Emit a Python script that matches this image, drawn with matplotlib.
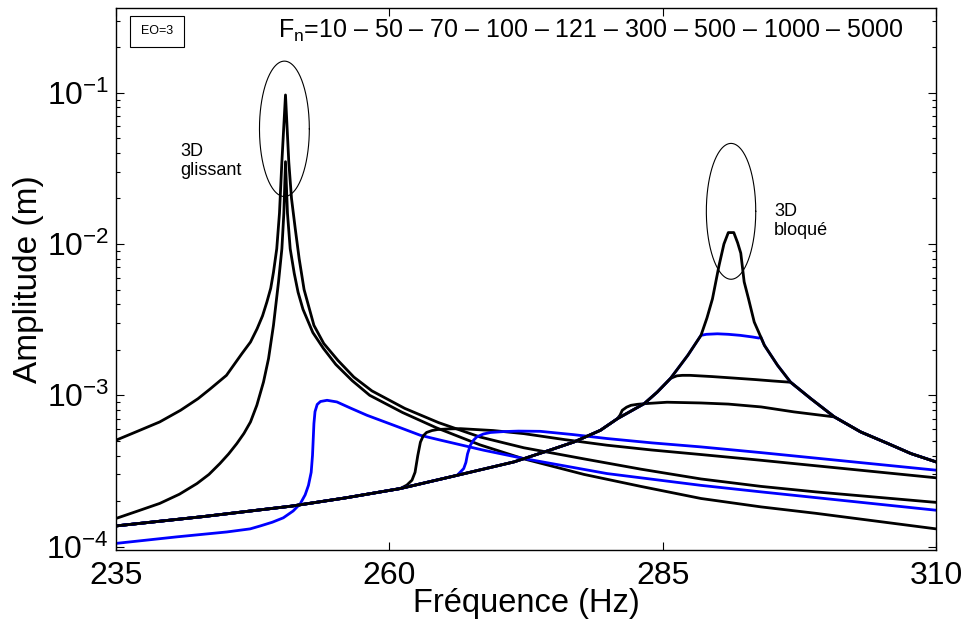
import numpy as np
import matplotlib
matplotlib.use("Agg")
from matplotlib import pyplot as plt
from matplotlib.patches import Rectangle
from matplotlib.ticker import LogLocator, NullFormatter, FixedLocator

plt.rcParams["font.family"] = ["Liberation Sans", "DejaVu Sans"]
plt.rcParams["mathtext.fontset"] = "custom"
plt.rcParams["mathtext.rm"] = "Liberation Sans"
plt.rcParams["mathtext.it"] = "Liberation Sans:italic"
plt.rcParams["mathtext.default"] = "regular"

# --- données (fréquence en Hz, amplitude en m) ---
# branche "bloqué" (Fn = 5000), partagée par les autres efforts en bas de courbe
freq_5000 = [235, 243, 251, 256, 261, 266.2, 271.4, 274.5, 276.9, 279.3, 280.85,
             283.3, 284.5, 285.7, 287.3, 288.5, 289.05, 289.55, 290.15, 290.6,
             291.0, 291.5, 291.85, 292.14, 292.45, 292.85, 293.37, 293.97, 294.3,
             295.5, 296.7, 298.55, 300.7, 303.1, 305.6, 307.7, 310]
amp_5000 = [1.37e-4, 1.58e-4, 1.85e-4, 2.1e-4, 2.42e-4, 2.96e-4, 3.63e-4, 4.3e-4,
            4.92e-4, 5.87e-4, 7.0e-4, 8.8e-4, 1.05e-3, 1.29e-3, 1.84e-3, 2.49e-3,
            3.25e-3, 4.34e-3, 7.2e-3, 1.0e-2, 1.19e-2, 1.19e-2, 1.02e-2, 8.7e-3,
            5.62e-3, 4.34e-3, 3.05e-3, 2.43e-3, 2.14e-3, 1.58e-3, 1.22e-3, 9.5e-4,
            7.2e-4, 5.73e-4, 4.8e-4, 4.12e-4, 3.63e-4]

# Fn = 10 (glissant, pic haut)
freq_10 = [235, 237, 239.0, 240.9, 242.5, 243.6, 245.1, 246.5, 247.3, 247.9, 248.4,
           248.8, 249.15, 249.4, 249.7, 249.95, 250.17, 250.5, 250.8, 251.05, 251.4,
           251.75, 252.2, 253.1, 254.0, 255.3, 256.75, 258.4, 261.4, 264.5, 268.3,
           272.3, 277.8, 283, 288.5, 294, 299, 310]
amp_10 = [5.05e-4, 5.8e-4, 6.67e-4, 7.96e-4, 9.5e-4, 1.1e-3, 1.355e-3, 1.88e-3,
          2.25e-3, 2.75e-3, 3.35e-3, 4.14e-3, 5.1e-3, 6.5e-3, 9.3e-3, 1.6e-2,
          3.5e-2, 9.66e-2, 3.5e-2, 2.0e-2, 1.25e-2, 8.0e-3, 5.0e-3, 2.9e-3,
          2.2e-3, 1.7e-3, 1.32e-3, 1.07e-3, 8.2e-4, 6.6e-4, 5.3e-4, 4.5e-4,
          3.8e-4, 3.25e-4, 2.8e-4, 2.5e-4, 2.3e-4, 1.96e-4]

# Fn = 50 (glissant, pic moyen)
freq_50 = [235, 237, 239.0, 240.8, 242.4, 243.5, 244.5, 245.3, 246.05, 246.7,
           247.3, 247.88, 248.49, 248.95, 249.4, 249.86, 250.17, 250.35, 250.5,
           250.68, 250.93, 251.3, 251.65, 252.1, 253.0, 253.95, 255.1, 256.6, 258.2,
           261.2, 264.3, 268.3, 272.3, 277.8, 283, 288.5, 294, 299, 310]
amp_50 = [1.535e-4, 1.72e-4, 1.93e-4, 2.22e-4, 2.61e-4, 3.0e-4, 3.54e-4, 4.1e-4,
          4.8e-4, 5.6e-4, 6.67e-4, 8.6e-4, 1.225e-3, 1.75e-3, 2.9e-3, 5.6e-3,
          9.3e-3, 1.6e-2, 3.5e-2, 1.6e-2, 9.3e-3, 6.4e-3, 4.8e-3, 3.7e-3, 2.6e-3,
          2.05e-3, 1.6e-3, 1.25e-3, 1.0e-3, 7.7e-4, 6.1e-4, 4.7e-4, 3.8e-4, 3.0e-4,
          2.5e-4, 2.08e-4, 1.83e-4, 1.66e-4, 1.31e-4]

# Fn = 70 (saut vers 253 Hz)
freq_70 = [235, 240.56, 245.14, 247.27, 248.2, 249.3, 250.3, 251.2, 251.85, 252.3,
           252.6, 252.85, 252.97, 253.03, 253.1, 253.2, 253.4, 253.7, 254.3, 255.2,
           256.5, 257.95, 260.5, 262.84, 264.7, 268.6, 272.3, 279.9, 288.5, 294, 310]
amp_70 = [1.05e-4, 1.16e-4, 1.25e-4, 1.31e-4, 1.37e-4, 1.45e-4, 1.55e-4, 1.72e-4,
          1.92e-4, 2.2e-4, 2.54e-4, 3.1e-4, 4.0e-4, 5.0e-4, 6.5e-4, 7.8e-4, 8.7e-4,
          9.1e-4, 9.27e-4, 9.04e-4, 8.2e-4, 7.38e-4, 6.3e-4, 5.44e-4, 5.05e-4,
          4.34e-4, 3.82e-4, 3.04e-4, 2.54e-4, 2.3e-4, 1.74e-4]

# Fn = 100 (quitte la branche bloquée vers 261 Hz)
freq_100 = [261.6, 262.07, 262.35, 262.6, 262.84, 263.1, 263.4, 263.9, 264.4, 265.5,
            266.5, 269.5, 272.3, 276, 279.9, 284, 288.5, 294, 310]
amp_100 = [2.55e-4, 2.75e-4, 3.1e-4, 4.0e-4, 4.9e-4, 5.4e-4, 5.68e-4, 5.85e-4,
           5.94e-4, 6.0e-4, 6.02e-4, 5.85e-4, 5.58e-4, 5.1e-4, 4.68e-4, 4.35e-4,
           4.06e-4, 3.72e-4, 2.85e-4]

# Fn = 121 (quitte la branche bloquée vers 266 Hz)
freq_121 = [266.8, 267.0, 267.15, 267.4, 267.7, 268.0, 268.6, 269.25, 270.5, 271.8,
            273.8, 276.8, 279.9, 284, 288.5, 294, 310]
amp_121 = [3.28e-4, 3.6e-4, 4.1e-4, 4.67e-4, 5.05e-4, 5.31e-4, 5.55e-4, 5.68e-4,
           5.76e-4, 5.8e-4, 5.78e-4, 5.5e-4, 5.18e-4, 4.85e-4, 4.56e-4, 4.18e-4,
           3.2e-4]

# plateaux autour du pic bloqué
freq_300 = [281.1, 281.3, 281.7, 282.1, 282.7, 283.3, 285.4, 288.5, 291, 294.0, 297.0]
amp_300 = [7.4e-4, 7.96e-4, 8.35e-4, 8.59e-4, 8.72e-4, 8.8e-4, 9.0e-4, 8.9e-4,
           8.75e-4, 8.38e-4, 7.77e-4]
freq_500 = [286.0, 286.3, 286.8, 287.5, 289.5, 291.5, 293.5, 295.0, 296.0]
amp_500 = [1.32e-3, 1.345e-3, 1.355e-3, 1.355e-3, 1.33e-3, 1.3e-3, 1.27e-3,
           1.245e-3, 1.23e-3]
freq_1000 = [288.75, 289.0, 289.5, 290.0, 291.0, 292.1, 293.2, 293.8]
amp_1000 = [2.51e-3, 2.53e-3, 2.54e-3, 2.55e-3, 2.53e-3, 2.49e-3, 2.43e-3, 2.39e-3]

fn_labels = ["10", "50", "70", "100", "121", "300", "500", "1000", "5000"]


def on_stuck(f_before, own_f, own_a, f_after=None):
    """colle une portion propre a la branche bloquee (avant / apres)"""
    f = [x for x in freq_5000 if x <= f_before] + list(own_f)
    a = [y for x, y in zip(freq_5000, amp_5000) if x <= f_before] + list(own_a)
    if f_after is not None:
        f += [x for x in freq_5000 if x >= f_after]
        a += [y for x, y in zip(freq_5000, amp_5000) if x >= f_after]
    return f, a


curves = [
    (freq_10, amp_10, "k"),
    (freq_50, amp_50, "k"),
    (freq_70, amp_70, "b"),
    (*on_stuck(261, freq_100, amp_100), "k"),
    (*on_stuck(266.2, freq_121, amp_121), "b"),
    (*on_stuck(280.85, freq_300, amp_300, 300.7), "k"),
    (*on_stuck(285.7, freq_500, amp_500, 296.7), "k"),
    (*on_stuck(288.5, freq_1000, amp_1000, 293.97), "b"),
    (freq_5000, amp_5000, "k"),
]

fig = plt.figure(figsize=(9.66, 6.23), dpi=100)
ax = fig.add_axes([0.1201, 0.1172, 0.8489, 0.870])

for f, a, c in curves:
    ax.plot(f, a, color=c, lw=2.0, solid_joinstyle="round")

ax.set_yscale("log")
ax.set_xlim(235, 310)
ax.set_ylim(9.5e-5, 0.363)

ax.xaxis.set_major_locator(FixedLocator([235, 260, 285, 310]))
ax.yaxis.set_major_locator(LogLocator(base=10, numticks=10))
ax.yaxis.set_minor_locator(LogLocator(base=10, subs=np.arange(2, 10), numticks=10))
ax.yaxis.set_minor_formatter(NullFormatter())
ax.tick_params(which="both", direction="in", top=True, right=True, labelsize=23,
               width=0.8, colors="black")
ax.tick_params(which="major", length=6)
ax.tick_params(which="minor", length=3)
ax.tick_params(axis="x", pad=8)
ax.tick_params(axis="y", pad=5)
for sp in ax.spines.values():
    sp.set_linewidth(1.0)

ax.set_xlabel("Fréquence (Hz)", fontsize=23.5, labelpad=-2)
ax.set_ylabel("Amplitude (m)", fontsize=24, labelpad=2)

# ellipses autour des pics (centre, demi-largeur en Hz, demi-hauteur en decades)
t = np.linspace(0, 2 * np.pi, 300)
for cx, cy, hw, hd in [(250.4, 0.0577, 2.28, 0.4475), (291.25, 0.01644, 2.26, 0.449)]:
    ax.plot(cx + hw * np.cos(t), cy * 10 ** (hd * np.sin(t)), color="k", lw=0.8)

ax.text(240.86, 0.0352, "3D\nglissant", fontsize=13, va="center", ha="left",
        linespacing=1.15)
ax.text(295.2, 0.0142, "3D\nbloqué", fontsize=13, va="center", ha="left",
        linespacing=1.15)

ax.text(0.197, 0.957, "F$_n$=" + " – ".join(fn_labels), transform=ax.transAxes,
        fontsize=18, va="center", ha="left")

ax.add_patch(Rectangle((0.0171, 0.9286), 0.0662, 0.0572, transform=ax.transAxes,
                       fill=False, lw=0.8, ec="k"))
ax.text(0.0502, 0.957, "EO=3", transform=ax.transAxes, fontsize=9,
        va="center", ha="center")

fig.savefig("out.png", dpi=100)
